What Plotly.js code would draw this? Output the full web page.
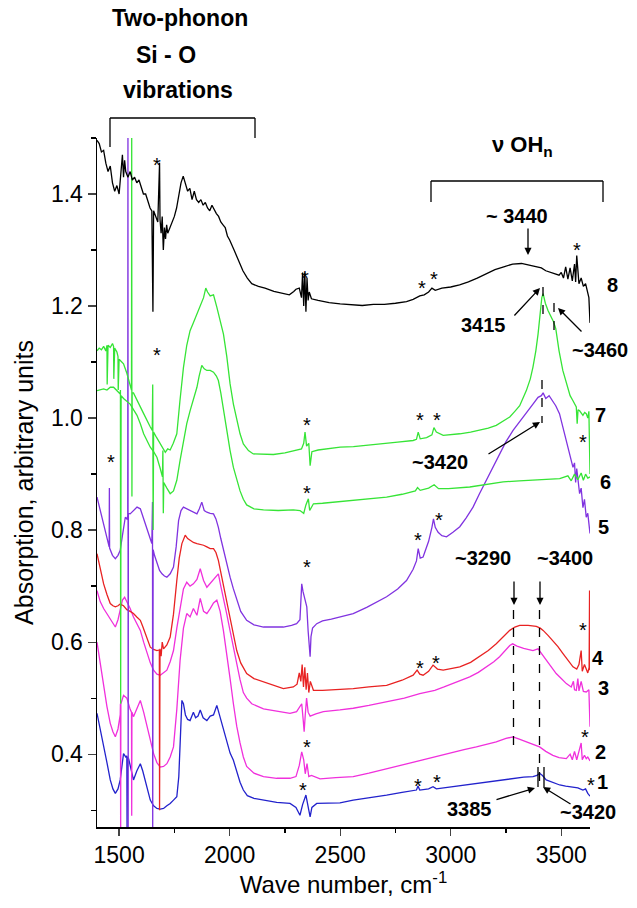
<!DOCTYPE html>
<html><head><meta charset="utf-8">
<script src="https://cdn.plot.ly/plotly-3.0.1.min.js"></script>
<style>html,body{margin:0;padding:0;background:#fff}#chart{width:637px;height:908px}</style>
</head><body><div id="chart"></div>
<script>
// ---- data (wave number cm^-1, absorption) ----
const wn8=[1400,1410,1420,1430,1440,1450,1460,1470,1480,1490,1500,1505,1510,1515,1520,1525,1530,1540,1550,1560,1570,1580,1590,1600,1610,1620,1630,1640,1648,1653,1656,1665,1675,1683,1685,1690,1695,1700,1705,1710,1715,1720,1730,1740,1750,1760,1770,1780,1790,1800,1810,1820,1830,1840,1850,1860,1870,1880,1890,1900,1910,1920,1930,1940,1950,1960,1970,1980,1990,2000,2020,2040,2060,2080,2100,2130,2160,2200,2240,2270,2290,2300,2315,2325,2330,2335,2340,2345,2350,2355,2360,2370,2400,2450,2500,2550,2600,2650,2700,2750,2800,2830,2860,2880,2900,2915,2930,2960,3000,3040,3080,3120,3160,3200,3240,3280,3320,3350,3380,3410,3430,3450,3470,3490,3500,3510,3520,3530,3540,3550,3560,3565,3570,3580,3590,3600,3610,3620,3625,3630];
const ab8=[1.496,1.49,1.475,1.478,1.455,1.44,1.45,1.42,1.405,1.415,1.40,1.425,1.44,1.47,1.43,1.46,1.44,1.43,1.44,1.425,1.43,1.42,1.425,1.41,1.40,1.40,1.385,1.375,1.37,1.19,1.37,1.36,1.35,1.456,1.355,1.33,1.36,1.30,1.34,1.32,1.345,1.33,1.34,1.35,1.36,1.375,1.40,1.42,1.432,1.42,1.405,1.41,1.39,1.405,1.39,1.385,1.39,1.38,1.385,1.375,1.37,1.38,1.372,1.365,1.36,1.35,1.345,1.34,1.325,1.318,1.30,1.28,1.263,1.25,1.24,1.235,1.232,1.226,1.222,1.22,1.226,1.23,1.232,1.215,1.26,1.20,1.26,1.19,1.25,1.21,1.225,1.213,1.21,1.206,1.204,1.202,1.201,1.203,1.203,1.205,1.208,1.212,1.218,1.22,1.225,1.232,1.228,1.232,1.234,1.238,1.243,1.25,1.258,1.265,1.27,1.275,1.276,1.273,1.27,1.268,1.263,1.26,1.258,1.255,1.26,1.25,1.27,1.248,1.268,1.245,1.275,1.243,1.29,1.24,1.25,1.235,1.24,1.225,1.215,1.17];

const wn7=[1400,1410,1420,1430,1440,1445,1446,1450,1460,1470,1475,1476,1480,1490,1495,1496,1500,1510,1520,1535,1550,1556,1557,1558,1559,1565,1581,1596,1611,1626,1640,1650,1652,1654,1656,1670,1686,1700,1709,1720,1731,1745,1761,1775,1791,1806,1821,1836,1852,1866,1882,1892,1900,1912,1927,1942,1957,1972,1987,2002,2017,2032,2047,2062,2085,2107,2150,2198,2250,2303,2325,2335,2341,2348,2358,2364,2372,2400,2450,2500,2560,2620,2700,2760,2830,2845,2853,2862,2891,2915,2924,2935,2966,3000,3041,3090,3131,3170,3206,3240,3267,3290,3312,3342,3360,3372,3385,3395,3405,3412,3418,3428,3440,3455,3465,3475,3490,3507,3523,3540,3553,3568,3572,3576,3583,3598,3606,3613,3620,3625,3630];
const ab7=[1.12,1.125,1.122,1.128,1.12,1.13,1.06,1.13,1.126,1.133,1.128,1.07,1.125,1.118,1.11,1.05,1.105,1.10,1.097,1.08,1.061,1.05,1.5,0.86,1.045,1.045,1.031,1.02,1.008,0.995,0.985,0.978,1.06,0.80,0.975,0.965,0.955,0.945,0.939,0.945,0.943,0.955,0.972,1.03,1.09,1.13,1.156,1.17,1.186,1.2,1.215,1.232,1.225,1.218,1.22,1.198,1.175,1.15,1.11,1.061,1.025,0.996,0.972,0.954,0.942,0.936,0.935,0.935,0.938,0.942,0.945,0.955,0.975,0.95,0.955,0.915,0.94,0.943,0.946,0.948,0.949,0.951,0.954,0.957,0.96,0.962,0.975,0.963,0.965,0.97,0.983,0.975,0.969,0.97,0.972,0.975,0.978,0.982,0.987,0.995,1.002,1.012,1.022,1.049,1.07,1.091,1.12,1.15,1.19,1.215,1.222,1.205,1.192,1.18,1.172,1.16,1.12,1.085,1.061,1.04,1.031,1.02,0.99,1.015,1.013,1.005,1.01,1.008,1.0,1.012,0.9];

const wn6=[1400,1415,1430,1445,1460,1475,1490,1505,1506,1507,1509,1520,1535,1550,1565,1581,1596,1611,1626,1641,1656,1671,1686,1696,1698,1700,1702,1716,1731,1746,1761,1776,1791,1806,1821,1836,1852,1862,1874,1885,1897,1912,1927,1940,1949,1960,1972,1987,2002,2017,2032,2047,2062,2077,2110,2153,2220,2288,2318,2335,2345,2356,2362,2368,2379,2420,2500,2560,2630,2710,2780,2840,2850,2862,2900,2925,2945,2990,3086,3160,3237,3310,3387,3440,3493,3530,3545,3560,3575,3590,3600,3610,3620,3630];
const ab6=[1.049,1.05,1.052,1.05,1.055,1.055,1.048,1.043,1.05,0.49,1.04,1.035,1.03,1.025,1.015,1.005,0.99,0.972,0.96,0.948,0.94,0.93,0.91,0.895,0.942,0.83,0.885,0.875,0.865,0.87,0.889,0.925,0.96,0.99,1.013,1.035,1.055,1.075,1.094,1.088,1.085,1.085,1.082,1.075,1.067,1.045,1.013,0.978,0.942,0.912,0.889,0.87,0.855,0.845,0.838,0.836,0.835,0.836,0.835,0.83,0.845,0.856,0.835,0.84,0.847,0.848,0.851,0.853,0.856,0.859,0.864,0.87,0.876,0.871,0.875,0.881,0.874,0.874,0.877,0.882,0.886,0.888,0.89,0.891,0.892,0.897,0.888,0.9,0.89,0.902,0.889,0.9,0.893,0.895];

const wn5=[1400,1415,1430,1445,1455,1456,1457,1470,1483,1495,1505,1515,1528,1535,1539,1540,1541,1542,1550,1565,1581,1596,1607,1618,1633,1648,1651,1652,1654,1660,1671,1683,1694,1705,1716,1731,1746,1758,1769,1780,1791,1806,1821,1836,1852,1863,1874,1885,1897,1912,1927,1938,1949,1960,1972,1987,2002,2017,2032,2050,2077,2110,2153,2200,2243,2280,2303,2318,2326,2332,2340,2349,2355,2360,2364,2368,2375,2394,2420,2460,2500,2559,2620,2670,2710,2760,2800,2830,2845,2853,2862,2875,2900,2915,2922,2930,2943,2960,2981,3010,3041,3070,3101,3130,3161,3190,3221,3250,3282,3310,3342,3372,3395,3410,3418,3430,3445,3462,3475,3492,3507,3523,3538,3553,3560,3565,3570,3583,3590,3598,3605,3613,3620,3630];
const ab5=[0.859,0.835,0.811,0.79,0.77,0.875,0.768,0.755,0.749,0.755,0.764,0.79,0.823,0.82,0.825,1.52,0.25,0.83,0.829,0.835,0.841,0.838,0.825,0.811,0.795,0.776,0.85,0.25,0.765,0.755,0.74,0.728,0.722,0.718,0.716,0.722,0.734,0.77,0.817,0.835,0.841,0.838,0.835,0.832,0.829,0.838,0.85,0.835,0.832,0.83,0.829,0.82,0.805,0.785,0.764,0.74,0.716,0.695,0.675,0.655,0.639,0.631,0.627,0.627,0.627,0.63,0.633,0.64,0.704,0.69,0.675,0.663,0.62,0.6,0.574,0.61,0.625,0.633,0.638,0.641,0.645,0.651,0.662,0.672,0.681,0.695,0.71,0.73,0.745,0.767,0.75,0.752,0.78,0.805,0.82,0.805,0.796,0.79,0.788,0.796,0.806,0.822,0.841,0.865,0.889,0.912,0.936,0.958,0.978,0.992,1.008,1.025,1.037,1.04,1.045,1.035,1.04,1.031,1.022,1.008,0.985,0.96,0.935,0.912,0.92,0.885,0.91,0.865,0.875,0.84,0.855,0.823,0.83,0.794];

const wn4=[1400,1415,1430,1445,1460,1472,1483,1495,1505,1520,1535,1550,1565,1580,1596,1607,1618,1630,1641,1656,1671,1682,1683,1685,1690,1695,1701,1716,1731,1746,1761,1772,1784,1791,1799,1810,1821,1836,1852,1866,1882,1897,1912,1927,1938,1949,1960,1972,1987,2002,2017,2032,2050,2077,2110,2153,2200,2243,2288,2305,2315,2322,2328,2334,2340,2346,2352,2358,2365,2379,2420,2500,2559,2630,2710,2780,2830,2848,2860,2875,2900,2920,2940,2966,3000,3041,3090,3131,3170,3206,3240,3267,3290,3312,3350,3387,3405,3418,3440,3462,3485,3507,3530,3553,3570,3580,3590,3595,3605,3613,3620,3626,3628,3630];
const ab4=[0.758,0.73,0.704,0.685,0.669,0.665,0.663,0.665,0.668,0.665,0.658,0.655,0.651,0.645,0.639,0.628,0.615,0.6,0.591,0.587,0.585,0.586,0.30,0.588,0.575,0.6,0.588,0.595,0.609,0.65,0.71,0.75,0.776,0.785,0.791,0.785,0.782,0.778,0.776,0.775,0.773,0.77,0.767,0.767,0.76,0.746,0.725,0.699,0.67,0.639,0.61,0.585,0.563,0.544,0.535,0.529,0.522,0.517,0.52,0.525,0.545,0.53,0.56,0.52,0.555,0.515,0.545,0.51,0.53,0.514,0.514,0.515,0.517,0.52,0.523,0.532,0.541,0.55,0.543,0.541,0.548,0.559,0.552,0.55,0.553,0.556,0.564,0.574,0.585,0.597,0.61,0.621,0.627,0.63,0.63,0.628,0.625,0.621,0.612,0.603,0.592,0.58,0.568,0.556,0.552,0.56,0.585,0.548,0.56,0.55,0.545,0.555,0.692,0.55];

const wn3=[1400,1415,1430,1445,1460,1475,1483,1495,1505,1515,1525,1535,1550,1565,1581,1596,1611,1626,1641,1656,1671,1686,1701,1716,1731,1746,1761,1776,1791,1806,1821,1836,1852,1867,1882,1897,1912,1927,1940,1949,1960,1972,1987,2002,2017,2032,2047,2062,2077,2100,2153,2213,2273,2303,2318,2326,2333,2337,2342,2348,2355,2364,2390,2424,2499,2559,2630,2710,2790,2860,2928,2970,3011,3050,3086,3125,3161,3195,3221,3245,3267,3280,3300,3330,3372,3395,3410,3432,3455,3477,3500,3523,3545,3555,3560,3568,3575,3580,3590,3600,3613,3625,3630];
const ab3=[0.692,0.672,0.66,0.651,0.64,0.633,0.627,0.64,0.655,0.675,0.68,0.672,0.66,0.645,0.632,0.621,0.6,0.58,0.563,0.55,0.543,0.541,0.545,0.55,0.565,0.585,0.625,0.663,0.695,0.707,0.70,0.704,0.712,0.731,0.71,0.698,0.705,0.71,0.718,0.722,0.70,0.68,0.65,0.62,0.59,0.56,0.533,0.51,0.50,0.49,0.481,0.477,0.473,0.476,0.485,0.49,0.46,0.44,0.47,0.50,0.475,0.468,0.472,0.476,0.479,0.482,0.487,0.493,0.50,0.508,0.514,0.52,0.526,0.532,0.538,0.546,0.556,0.565,0.574,0.584,0.594,0.597,0.593,0.589,0.585,0.588,0.58,0.568,0.556,0.544,0.535,0.526,0.52,0.53,0.515,0.514,0.535,0.513,0.53,0.512,0.511,0.515,0.449];

const wn2=[1400,1415,1430,1445,1460,1472,1483,1495,1505,1506,1507,1508,1520,1535,1550,1556,1557,1558,1565,1580,1596,1611,1626,1641,1656,1671,1686,1701,1716,1731,1746,1761,1776,1791,1806,1821,1836,1852,1867,1882,1897,1912,1927,1942,1957,1972,1987,2002,2017,2032,2047,2062,2077,2110,2153,2213,2273,2300,2315,2326,2335,2342,2350,2358,2370,2409,2480,2559,2630,2710,2790,2860,2930,3011,3060,3116,3160,3206,3250,3282,3310,3342,3372,3402,3430,3462,3490,3523,3540,3550,3560,3570,3580,3590,3595,3605,3613,3620,3630];
const ab2=[0.60,0.56,0.52,0.485,0.455,0.44,0.431,0.445,0.47,0.49,0.25,0.49,0.505,0.50,0.48,0.475,0.29,0.475,0.467,0.48,0.496,0.475,0.449,0.423,0.401,0.385,0.377,0.378,0.383,0.395,0.413,0.48,0.568,0.625,0.651,0.645,0.66,0.648,0.678,0.655,0.651,0.66,0.67,0.675,0.655,0.62,0.58,0.535,0.49,0.45,0.42,0.395,0.378,0.366,0.36,0.357,0.357,0.36,0.38,0.404,0.39,0.365,0.383,0.36,0.362,0.356,0.358,0.36,0.366,0.374,0.381,0.389,0.396,0.404,0.408,0.413,0.417,0.422,0.428,0.431,0.427,0.422,0.418,0.413,0.405,0.398,0.394,0.392,0.40,0.39,0.405,0.39,0.405,0.42,0.39,0.398,0.392,0.395,0.388];

const wn1=[1400,1415,1430,1445,1460,1472,1483,1495,1505,1513,1520,1530,1535,1536,1538,1543,1555,1565,1580,1596,1607,1618,1630,1641,1656,1671,1686,1701,1716,1731,1746,1761,1770,1778,1784,1791,1800,1810,1821,1836,1846,1857,1867,1880,1897,1912,1927,1942,1957,1972,1987,2002,2017,2032,2047,2062,2080,2110,2153,2213,2273,2300,2318,2330,2345,2352,2358,2364,2372,2394,2450,2499,2559,2630,2710,2780,2845,2852,2860,2900,2920,2935,3011,3080,3161,3220,3282,3330,3372,3390,3402,3415,3432,3460,3493,3520,3553,3575,3598,3610,3620,3630];
const ab1=[0.473,0.445,0.419,0.385,0.354,0.338,0.33,0.338,0.354,0.38,0.401,0.395,0.397,0.26,0.395,0.392,0.37,0.354,0.37,0.383,0.37,0.354,0.335,0.318,0.308,0.303,0.302,0.303,0.308,0.312,0.318,0.324,0.36,0.44,0.496,0.49,0.47,0.462,0.46,0.475,0.465,0.468,0.479,0.465,0.46,0.468,0.47,0.487,0.465,0.443,0.42,0.402,0.389,0.37,0.35,0.336,0.326,0.321,0.318,0.314,0.312,0.305,0.291,0.31,0.327,0.315,0.30,0.288,0.305,0.312,0.312,0.313,0.318,0.322,0.327,0.332,0.336,0.343,0.336,0.338,0.342,0.338,0.342,0.346,0.351,0.354,0.357,0.359,0.36,0.362,0.366,0.362,0.354,0.35,0.345,0.343,0.342,0.34,0.336,0.338,0.33,0.325];

const xTicks=[1500,2000,2500,3000,3500];
const yTicks=[0.4,0.6,0.8,1.0,1.2,1.4];

// ---- layout helpers (pixel -> paper) ----
const L=97,R=590,T=138,B=827;
const PX=p=>(p-L)/(R-L), PY=p=>(B-p)/(B-T);
const FONT='Liberation Sans, Arial, sans-serif';

const series=[
 [wn1,ab1,'#2222cc'],[wn2,ab2,'#f030dc'],[wn3,ab3,'#f030dc'],[wn4,ab4,'#e82222'],
 [wn5,ab5,'#8033e0'],[wn6,ab6,'#36e436'],[wn7,ab7,'#36e436'],[wn8,ab8,'#000000']
];
const traces=series.map(([x,y,c],i)=>({x:x,y:y,type:'scatter',mode:'lines',
  line:{color:c,width:1.3},name:String(i+1),showlegend:false,hoverinfo:'skip'}));

const ann=[];
function txt(t,x,y,size,bold){ann.push({text:bold===false?t:'<b>'+t+'</b>',xref:'paper',yref:'paper',x:PX(x),y:PY(y),
  showarrow:false,xanchor:'center',yanchor:'middle',font:{family:FONT,size:size,color:'#000'}});}
function arrow(x0,y0,x1,y1){ann.push({text:'',xref:'paper',yref:'paper',x:PX(x1),y:PY(y1),
  ax:x0-x1,ay:y0-y1,showarrow:true,arrowhead:2,arrowsize:1.1,arrowwidth:1.3,arrowcolor:'#000'});}
function star(x,y){txt('*',x,y+5,20,false);}

txt('Two-phonon',180,18,23);txt('Si - O',166,55,23);txt('vibrations',178,90,23);
txt('ν OH<sub>n</sub>',522,146,22);
txt('~ 3440',517,216,20);txt('8',612,285,20);txt('3415',483,325,20);txt('~3460',600,350,20);
txt('7',600,415,20);txt('~3420',440,462,20);txt('6',605,482,20);txt('5',603,527,20);
txt('~3290',483,558,20);txt('~3400',565,558,20);txt('4',598,658,20);txt('3',603,688,20);
txt('2',600,752,20);txt('1',602,782,20);txt('3385',469,809,20);txt('~3420',588,812,20);
arrow(528,227,528,255);arrow(513,317,540,288);arrow(583,333,558,308);arrow(487,455,540,422);
arrow(514,580,514,605);arrow(540,580,540,605);arrow(495,800,535,788);arrow(572,805,543,787);
[[157,160],[305,273],[422,283],[434,274],[577,245],[157,350],[307,420],[420,415],[437,415],[583,437],
 [307,488],[111,457],[307,562],[418,535],[439,515],[420,663],[436,658],[583,625],[307,742],[585,732],
 [303,785],[418,781],[437,777],[591,780]].forEach(p=>star(p[0],p[1]));

const shp=[];
function seg(x0,y0,x1,y1,dash){shp.push({type:'line',xref:'paper',yref:'paper',x0:PX(x0),y0:PY(y0),x1:PX(x1),y1:PY(y1),
  line:{color:'#000',width:1.3,dash:dash||'solid'}});}
seg(110,147,110,118);seg(110,118,255,118);seg(255,118,255,138);
seg(431,202,431,181);seg(431,181,603,181);seg(603,181,603,202);
seg(543,287,543,320,'dash');seg(554,303,554,333,'dash');seg(542,380,542,423,'dash');
seg(513.5,610,513.5,753,'dash');seg(539.5,610,539.5,787,'dash');
seg(538,767,538,787);seg(544,767,544,787);

const layout={width:637,height:908,margin:{l:L,r:637-R,t:T,b:908-B},
 paper_bgcolor:'#fff',plot_bgcolor:'#fff',showlegend:false,
 font:{family:FONT,color:'#000'},
 xaxis:{range:[1400,3630],tickvals:xTicks,ticktext:xTicks.map(String),ticks:'outside',ticklen:7,tickwidth:1.3,
  showline:true,linewidth:1.5,linecolor:'#000',showgrid:false,zeroline:false,
  minor:{dtick:250,tick0:1500,ticks:'outside',ticklen:4,tickwidth:1.3,tickcolor:'#000',showgrid:false},
  tickfont:{size:23,family:FONT},title:{text:'Wave number, cm<sup>-1</sup>',font:{size:24,family:FONT},standoff:8}},
 yaxis:{range:[0.27,1.5],tickvals:yTicks,ticktext:yTicks.map(v=>v.toFixed(1)),ticks:'outside',ticklen:8,tickwidth:1.3,
  showline:true,linewidth:1.5,linecolor:'#000',showgrid:false,zeroline:false,
  minor:{dtick:0.1,tick0:0.4,ticks:'outside',ticklen:5,tickwidth:1.3,tickcolor:'#000',showgrid:false},
  tickfont:{size:23,family:FONT},title:{text:'Absorption, arbitrary units',font:{size:25,family:FONT},standoff:10}},
 annotations:ann,shapes:shp};
Plotly.newPlot('chart',traces,layout,{staticPlot:true,displayModeBar:false});
</script></body></html>
